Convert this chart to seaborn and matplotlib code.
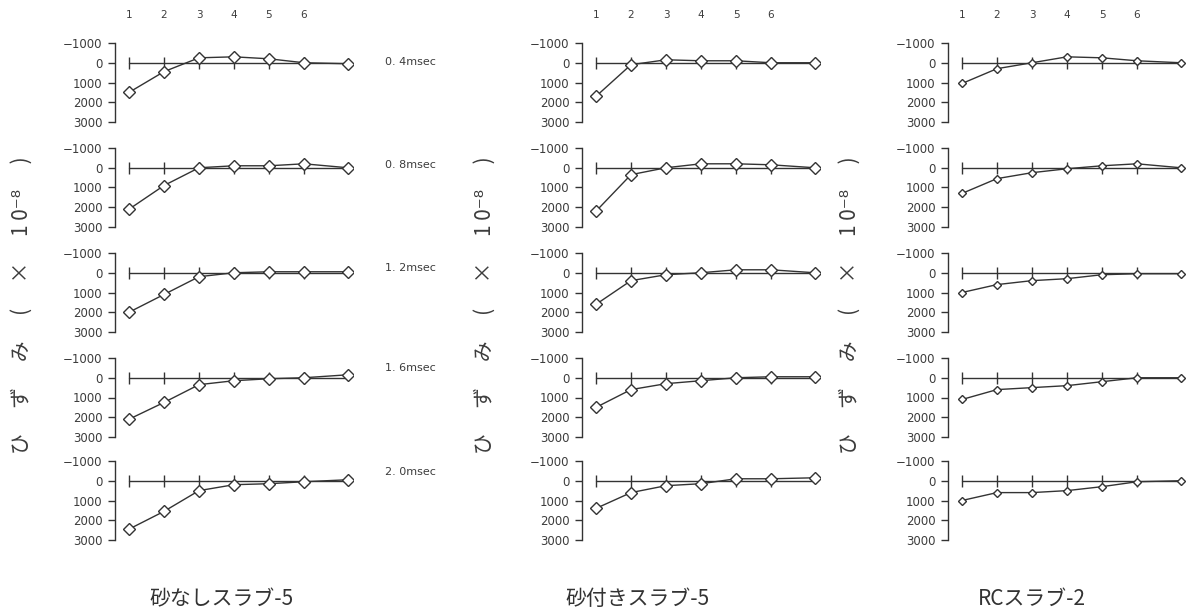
import numpy as np
import pandas as pd
import matplotlib
matplotlib.use("Agg")
import matplotlib.pyplot as plt
import seaborn as sns

# ---------------- data ----------------
x_pos = [1, 2, 3, 4, 5, 6, 7.25]
top_tick_labels = ["1", "2", "3", "4", "5", "6"]
periods = ["0. 4msec", "0. 8msec", "1. 2msec", "1. 6msec", "2. 0msec"]
col_titles = ["砂なしスラブ-5", "砂付きスラブ-5", "RCスラブ-2"]
y_ticks = [-1000, 0, 1000, 2000, 3000]
y_tick_labels = ["−1000", "0", "1000", "2000", "3000"]
ylabel_text = "ひ　 ず　 み　 (　 ×　 1 0⁻⁸　 )"

sand_none = [
    [1500, 450, -250, -300, -200, 0, 50],
    [2100, 900, 0, -100, -100, -200, 0],
    [2000, 1100, 200, 0, -50, -50, -50],
    [2100, 1250, 350, 150, 50, 0, -150],
    [2450, 1550, 500, 200, 150, 50, -50],
]
sand_with = [
    [1700, 100, -150, -100, -100, 0, 0],
    [2200, 350, 0, -200, -200, -150, 0],
    [1600, 400, 100, 0, -150, -150, 0],
    [1500, 600, 300, 150, 0, -50, -50],
    [1400, 600, 250, 150, -100, -100, -150],
]
rc_slab = [
    [1050, 300, 0, -300, -250, -100, 0],
    [1300, 550, 250, 50, -100, -200, 0],
    [1000, 600, 400, 300, 100, 50, 50],
    [1100, 600, 500, 400, 200, 0, 0],
    [1000, 600, 600, 500, 300, 50, 0],
]
baseline = [0, 0, 0, 0, 0, 0, 0]
columns = [sand_none, sand_with, rc_slab]

# ---------------- style ----------------
sns.set_theme(style="white")
plt.rcParams["font.family"] = ["DejaVu Sans", "Noto Sans CJK JP"]
INK = "#333333"
TXT = "#3c3c3c"

W, H = 1196, 614
fig = plt.figure(figsize=(W / 100, H / 100), dpi=100)

col_left = [115, 582, 948]
row_top = [43, 148, 253, 358, 461]
ax_w, ax_h = 238, 79
marker_sizes = [6.5, 6.0, 4.5]

for ci, col in enumerate(columns):
    for ri, vals in enumerate(col):
        left = col_left[ci] / W
        bottom = 1 - (row_top[ri] + ax_h) / H
        ax = fig.add_axes([left, bottom, ax_w / W, ax_h / H])
        ax.set_facecolor("none")
        df = pd.DataFrame({"x": x_pos, "y": vals, "b": baseline})
        # baseline with tick marks
        sns.lineplot(data=df, x="x", y="b", ax=ax, color=INK, linewidth=1.0)
        sns.scatterplot(data=df.iloc[:6], x="x", y="b", ax=ax, marker="|",
                        s=70, color=INK, linewidth=1.0)
        # strain series
        sns.lineplot(data=df, x="x", y="y", ax=ax, color=INK, linewidth=1.0,
                     marker="D", markersize=marker_sizes[ci],
                     markerfacecolor="white", markeredgecolor=INK,
                     markeredgewidth=1.0)
        ax.set_xlim(0.6, 7.4)
        ax.set_ylim(3000, -1000)
        ax.set_yticks(y_ticks)
        ax.set_yticklabels(y_tick_labels, fontsize=8.5, color=TXT)
        ax.tick_params(axis="y", direction="out", length=5, width=1,
                       color=INK, pad=4, left=True)
        for s in ["top", "right", "bottom"]:
            ax.spines[s].set_visible(False)
        ax.spines["left"].set_color(INK)
        ax.spines["left"].set_linewidth(1.0)
        ax.set_xlabel("")
        ax.set_ylabel("")
        if ri == 0:
            ax.xaxis.tick_top()
            ax.set_xticks(x_pos[:6])
            ax.set_xticklabels(top_tick_labels, fontsize=7.5, color=TXT)
            ax.tick_params(axis="x", length=0, pad=16.5, top=True, bottom=False)
        else:
            ax.set_xticks([])

# period labels
label_y = [62, 165, 268, 368, 472]
for lab, yy in zip(periods, label_y):
    fig.text(385 / W, 1 - yy / H, lab, fontsize=8, color=TXT,
             ha="left", va="center")

# y labels
for xx in [22, 485, 850]:
    fig.text(xx / W, 1 - 305 / H, ylabel_text, rotation=90, fontsize=15,
             color=TXT, ha="center", va="center",
             family=["Noto Sans CJK JP", "DejaVu Sans"])

# column titles
for t, xx in zip(col_titles, [222, 638, 1032]):
    fig.text(xx / W, 1 - 599 / H, t, fontsize=15, color=INK,
             ha="center", va="center",
             family=["Noto Sans CJK JP", "DejaVu Sans"])

fig.savefig("out.png", dpi=100, facecolor="white")
